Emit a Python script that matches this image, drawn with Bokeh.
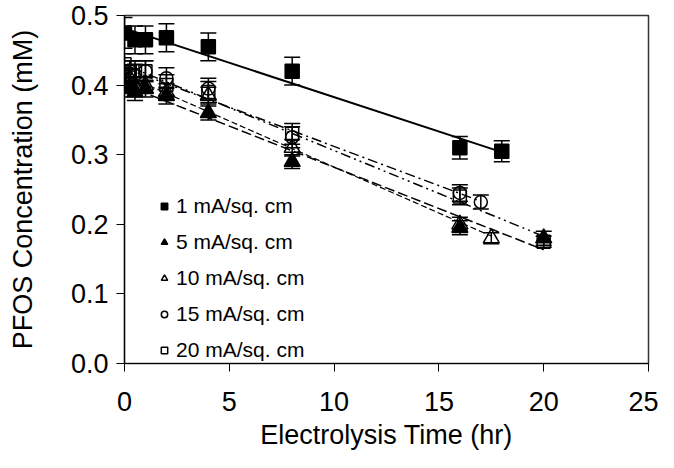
import numpy as np
from bokeh.plotting import figure
from bokeh.models import ColumnDataSource, Whisker, TeeHead, Legend, LegendItem, Range1d, FixedTicker, NumeralTickFormatter
from bokeh.embed import file_html
from bokeh.resources import INLINE

# ---- data ----
series_names = ["1 mA/sq. cm", "5 mA/sq. cm", "10 mA/sq. cm", "15 mA/sq. cm", "20 mA/sq. cm"]

x_1 = [0, 0.5, 1, 2, 4, 8, 16, 18]
y_1 = [0.475, 0.465, 0.465, 0.468, 0.455, 0.420, 0.310, 0.305]
e_1 = [0.022, 0.02, 0.02, 0.02, 0.02, 0.02, 0.016, 0.015]

x_5 = [0, 0.25, 0.5, 1, 2, 4, 8, 16, 20]
y_5 = [0.400, 0.395, 0.390, 0.395, 0.385, 0.360, 0.290, 0.195, 0.180]
e_5 = [0.012, 0.012, 0.012, 0.012, 0.012, 0.01, 0.01, 0.01, 0.01]

x_10 = [0, 0.25, 0.5, 1, 2, 4, 8, 16, 17.5]
y_10 = [0.405, 0.410, 0.400, 0.400, 0.390, 0.385, 0.310, 0.200, 0.180]
e_10 = [0.012, 0.012, 0.012, 0.012, 0.012, 0.012, 0.012, 0.01, 0.008]

x_15 = [0, 0.25, 0.5, 1, 2, 4, 8, 16, 17]
y_15 = [0.410, 0.420, 0.415, 0.420, 0.410, 0.395, 0.325, 0.245, 0.232]
e_15 = [0.015, 0.015, 0.015, 0.015, 0.015, 0.015, 0.015, 0.012, 0.01]

x_20 = [0, 0.25, 0.5, 1, 2, 4, 8, 16, 20]
y_20 = [0.430, 0.420, 0.420, 0.420, 0.400, 0.390, 0.330, 0.240, 0.175]
e_20 = [0.015, 0.015, 0.015, 0.015, 0.015, 0.015, 0.015, 0.012, 0.008]

x_ticks = [0, 5, 10, 15, 20, 25]
y_ticks = [0.0, 0.1, 0.2, 0.3, 0.4, 0.5]

FONT = "Liberation Sans"

p = figure(width=658, height=452, output_backend="svg", toolbar_location=None,
           x_range=Range1d(0, 25), y_range=Range1d(0, 0.5),
           min_border_left=124, min_border_right=10, min_border_top=15, min_border_bottom=88)
p.grid.visible = False
p.outline_line_color = "#333333"
p.outline_line_width = 1.5
p.background_fill_color = "white"
p.border_fill_color = "white"

for ax in (p.xaxis[0], p.yaxis[0]):
    ax.axis_line_color = "black"
    ax.axis_line_width = 1.2
    ax.major_tick_line_color = "black"
    ax.major_tick_in = 0
    ax.major_tick_out = 8
    ax.minor_tick_line_color = None
    ax.major_label_text_font = FONT
    ax.major_label_text_font_size = "27px"
    ax.major_label_text_color = "black"
    ax.axis_label_text_font = FONT
    ax.axis_label_text_font_size = "27px"
    ax.axis_label_text_font_style = "normal"
    ax.axis_label_text_color = "black"

p.xaxis.ticker = FixedTicker(ticks=x_ticks)
p.yaxis.ticker = FixedTicker(ticks=y_ticks)
p.yaxis.formatter = NumeralTickFormatter(format="0.0")
p.xaxis.axis_label = "Electrolysis Time (hr)"
p.yaxis.axis_label = "PFOS Concentration (mM)"
p.xaxis.major_label_standoff = 20
p.xaxis.axis_label_standoff = 6
p.yaxis.major_label_standoff = 8
p.yaxis.axis_label_standoff = 30

specs = [
    (x_1, y_1, e_1, "square", "black", 14, None, 2.0),
    (x_5, y_5, e_5, "triangle", "black", 16, "10 4", 1.5),
    (x_10, y_10, e_10, "triangle", None, 16, "6 3", 1.2),
    (x_15, y_15, e_15, "circle", None, 13, "10 4 2 4", 1.5),
    (x_20, y_20, e_20, "square", None, 13, "10 4 2 4 2 4", 1.5),
]

items = []
for (xs, ys, es, marker, fill, size, dash, lw), name in zip(specs, series_names):
    xa = np.array(xs, dtype=float)
    ya = np.array(ys, dtype=float)
    ea = np.array(es, dtype=float)
    # linear trend line over the series' time range
    slope, icpt = np.polyfit(xa, ya, 1)
    tx = np.array([xa.min(), xa.max()])
    if dash is None:
        p.line(tx, icpt + slope * tx, line_color="black", line_width=lw)
    else:
        p.line(tx, icpt + slope * tx, line_color="black", line_width=lw, line_dash=dash)
    src = ColumnDataSource(dict(x=xa, y=ya, lo=ya - ea, hi=ya + ea))
    w = Whisker(source=src, base="x", lower="lo", upper="hi", line_color="black", line_width=1.5,
                upper_head=TeeHead(size=16, line_color="black", line_width=1.5),
                lower_head=TeeHead(size=16, line_color="black", line_width=1.5))
    p.add_layout(w)
    r = p.scatter("x", "y", source=src, marker=marker, size=size, line_color="black",
                  line_width=1.5, fill_color=fill if fill else "white", fill_alpha=1.0 if fill else 0.0)
    items.append(LegendItem(label=name, renderers=[r]))

legend = Legend(items=items, location=(32, 1), border_line_color=None, background_fill_alpha=0,
                label_text_font=FONT, label_text_font_size="21px", label_text_color="black",
                glyph_width=16, glyph_height=20, label_height=24, spacing=12, padding=0, margin=0,
                label_standoff=4)
p.add_layout(legend, "center")

open("out.html", "w").write(file_html(p, INLINE))
